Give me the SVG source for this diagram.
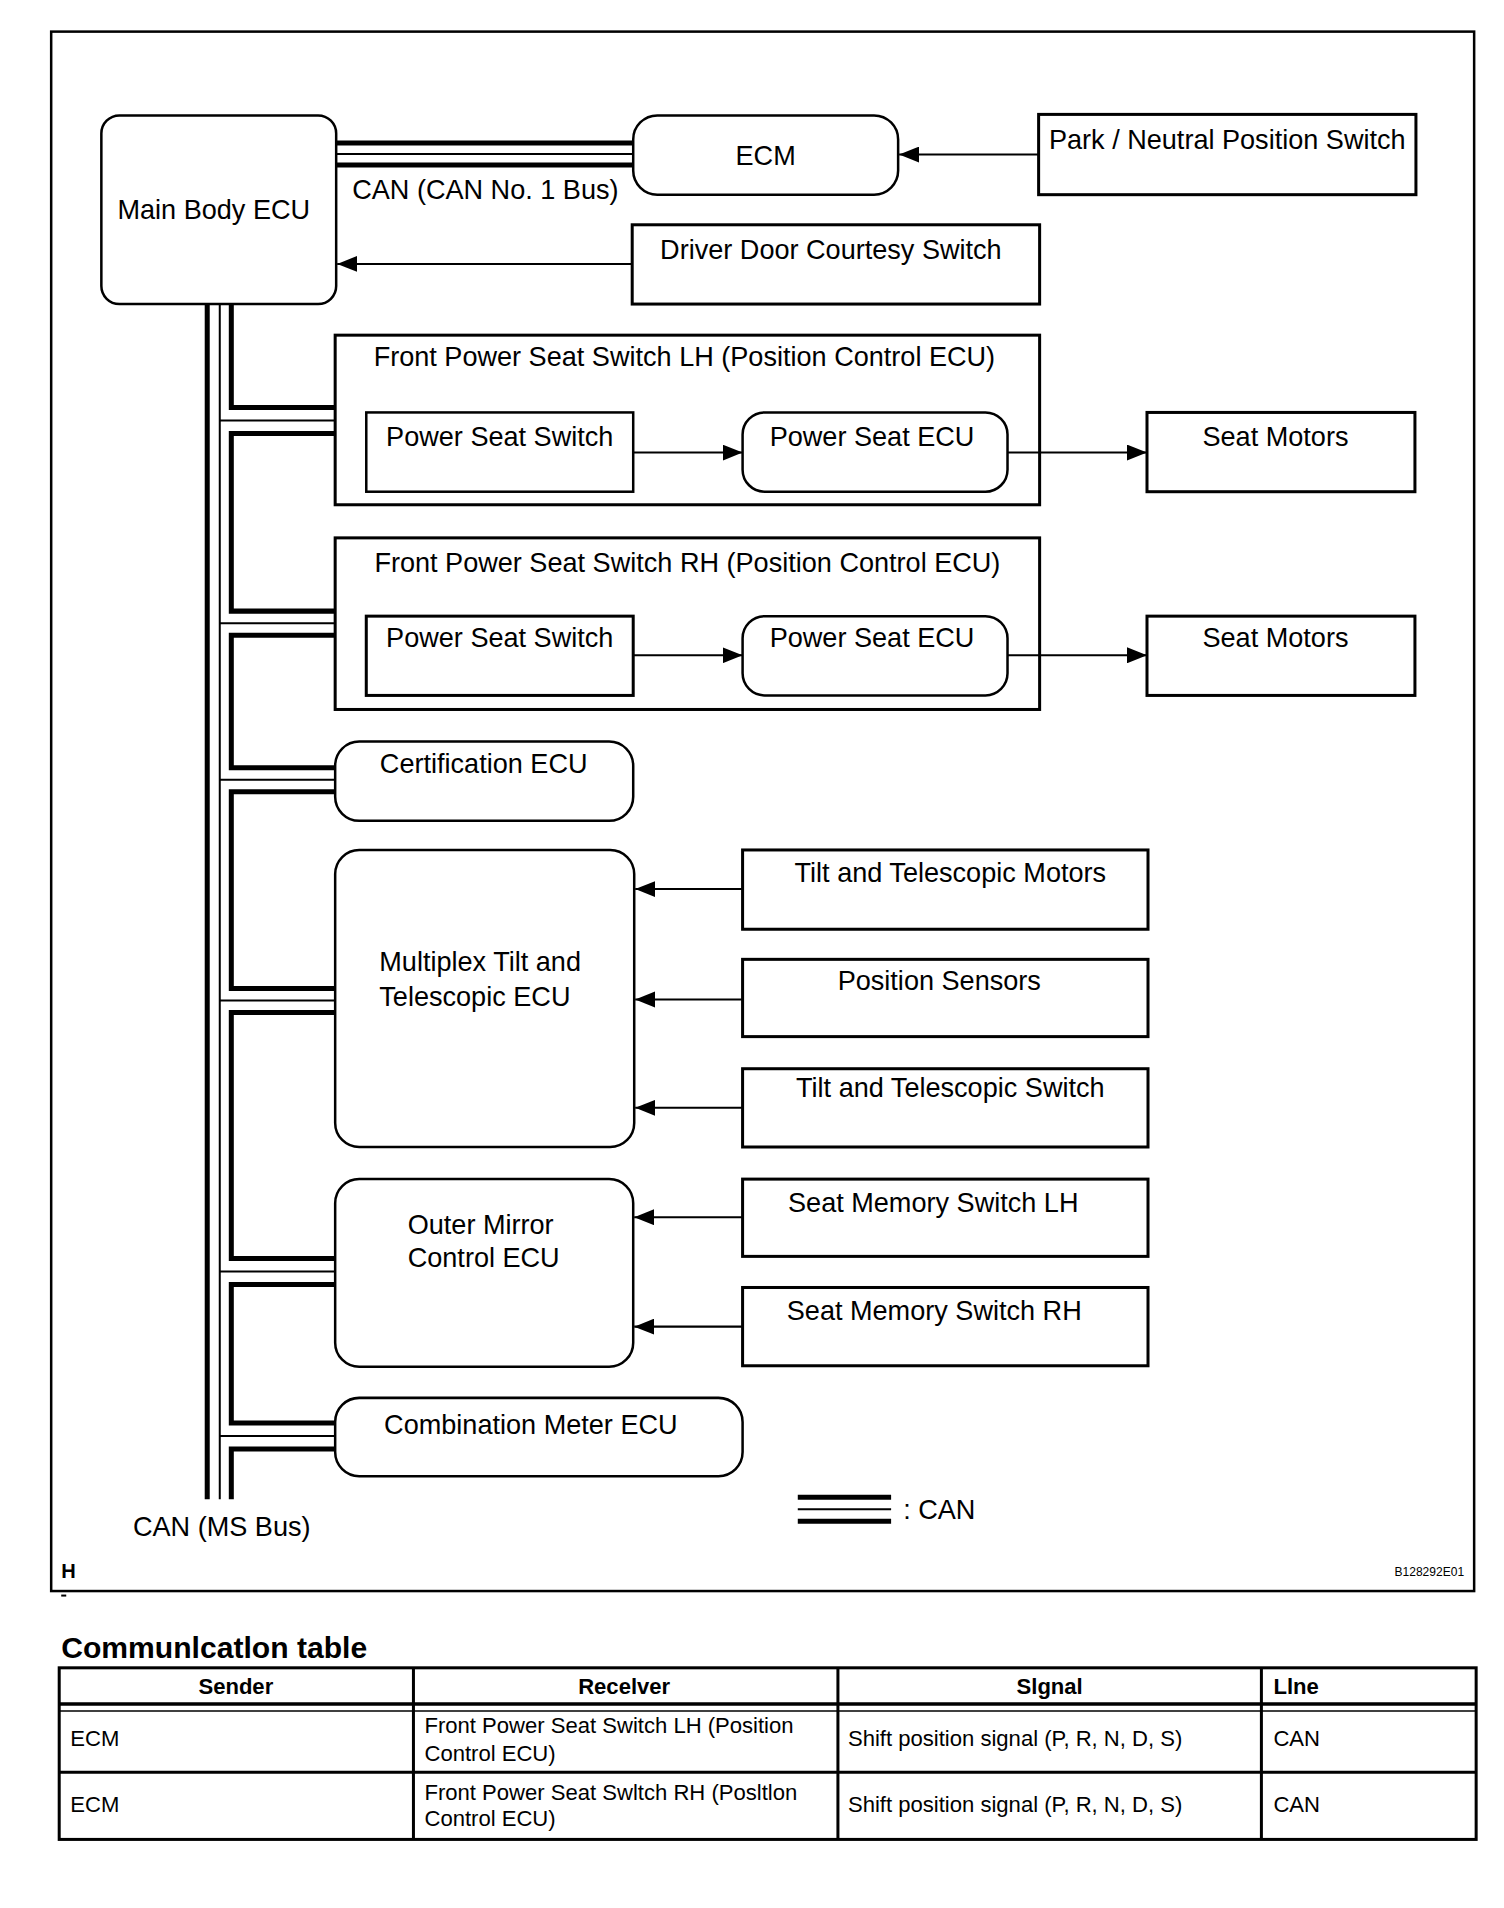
<svg xmlns="http://www.w3.org/2000/svg" width="1504" height="1908" viewBox="0 0 1504 1908">
<style>
.box{fill:#fff;stroke:#000;stroke-width:3}
.rbox{fill:#fff;stroke:#000;stroke-width:2.5}
.grp{fill:#fff;stroke:#000;stroke-width:3}
.t{font-family:"Liberation Sans",Arial,sans-serif;font-size:27px;fill:#000}
.c{text-anchor:middle}
.tb{font-family:"Liberation Sans",Arial,sans-serif;font-size:22px;fill:#000}
.b{font-weight:bold}
.thick{stroke:#000;stroke-width:5;fill:none;stroke-linejoin:miter}
.thin{stroke:#000;stroke-width:2;fill:none}
.conn{stroke:#000;stroke-width:2;fill:none}
.tl{stroke:#000;stroke-width:3;fill:none}
</style>
<defs>
<marker id="arr" markerUnits="userSpaceOnUse" markerWidth="20" markerHeight="16" refX="20" refY="8" orient="auto">
<path d="M0,0 L20,8 L0,16 z" fill="#000"/>
</marker>
</defs>
<rect width="1504" height="1908" fill="#fff"/>
<g transform="scale(1.0035)">
<rect x="51" y="31.5" width="1418" height="1554" fill="none" stroke="#000" stroke-width="2.5"/>
<rect x="61" y="1589" width="5" height="2" fill="#000"/>

<g id="main-body-ecu"><rect class="rbox" x="101" y="115" width="234" height="188" rx="18"/><text class="t c" x="213" y="218">Main Body ECU</text></g>
<g id="ecm"><rect class="rbox" x="631" y="115" width="264" height="79" rx="24"/><text class="t c" x="763" y="164">ECM</text></g>
<g id="pnp-switch"><rect class="box" x="1035" y="114" width="376" height="80"/><text class="t c" x="1223" y="148">Park / Neutral Position Switch</text></g>
<g id="driver-door"><rect class="box" x="630" y="224" width="406" height="79"/><text class="t c" x="828" y="258">Driver Door Courtesy Switch</text></g>

<g id="fpss-lh"><rect class="grp" x="334" y="334" width="702" height="169"/><text class="t c" x="682" y="365">Front Power Seat Switch LH (Position Control ECU)</text></g>
<g id="pss-lh"><rect class="box" x="365" y="411" width="266" height="79" style="stroke-width:2.5"/><text class="t c" x="498" y="444">Power Seat Switch</text></g>
<g id="pse-lh"><rect class="rbox" x="740" y="411" width="264" height="79" rx="22"/><text class="t c" x="869" y="444">Power Seat ECU</text></g>
<g id="motors-lh"><rect class="box" x="1143" y="411" width="267" height="79"/><text class="t c" x="1271" y="444">Seat Motors</text></g>

<g id="fpss-rh"><rect class="grp" x="334" y="536" width="702" height="171"/><text class="t c" x="685" y="570">Front Power Seat Switch RH (Position Control ECU)</text></g>
<g id="pss-rh"><rect class="box" x="365" y="614" width="266" height="79"/><text class="t c" x="498" y="645">Power Seat Switch</text></g>
<g id="pse-rh"><rect class="rbox" x="740" y="614" width="264" height="79" rx="22"/><text class="t c" x="869" y="645">Power Seat ECU</text></g>
<g id="motors-rh"><rect class="box" x="1143" y="614" width="267" height="79"/><text class="t c" x="1271" y="645">Seat Motors</text></g>

<g id="certification-ecu"><rect class="rbox" x="334" y="739" width="297" height="79" rx="24"/><text class="t c" x="482" y="770">Certification ECU</text></g>

<g id="tilt-tele-ecu"><rect class="rbox" x="334" y="847" width="298" height="296" rx="24"/><text class="t" x="378" y="968">Multiplex Tilt and</text><text class="t" x="378" y="1002">Telescopic ECU</text></g>
<g id="tilt-motors"><rect class="box" x="740" y="847" width="404" height="79"/><text class="t c" x="947" y="879">Tilt and Telescopic Motors</text></g>
<g id="position-sensors"><rect class="box" x="740" y="956" width="404" height="77"/><text class="t c" x="936" y="987">Position Sensors</text></g>
<g id="tilt-switch"><rect class="box" x="740" y="1065" width="404" height="78"/><text class="t c" x="947" y="1093">Tilt and Telescopic Switch</text></g>

<g id="outer-mirror-ecu"><rect class="rbox" x="334" y="1175" width="297" height="187" rx="24"/><text class="t c" x="479" y="1230">Outer Mirror</text><text class="t c" x="482" y="1263">Control ECU</text></g>
<g id="memory-lh"><rect class="box" x="740" y="1175" width="404" height="77"/><text class="t c" x="930" y="1208">Seat Memory Switch LH</text></g>
<g id="memory-rh"><rect class="box" x="740" y="1283" width="404" height="78"/><text class="t c" x="931" y="1315">Seat Memory Switch RH</text></g>

<g id="combination-meter"><rect class="rbox" x="334" y="1393" width="406" height="78" rx="24"/><text class="t c" x="529" y="1429">Combination Meter ECU</text></g>

<g id="connectors">
<line class="thick" x1="335" y1="142.5" x2="631" y2="142.5"/>
<line class="thin" x1="335" y1="153.5" x2="631" y2="153.5"/>
<line class="thick" x1="335" y1="164.5" x2="631" y2="164.5"/>
<line class="thick" x1="206.5" y1="303" x2="206.5" y2="1494"/>
<line class="thin" x1="219" y1="303" x2="219" y2="1494"/>
<path class="thick" d="M230.5,303 V406 H334 M334,432 H230.5 V609 H334 M334,633 H230.5 V765 H334 M334,789 H230.5 V985 H334 M334,1009 H230.5 V1254 H334 M334,1280 H230.5 V1418 H334 M334,1444 H230.5 V1494"/>
<path class="thin" d="M219,419 H334 M219,621 H334 M219,777 H334 M219,997 H334 M219,1267 H334 M219,1431 H334"/>
<line class="conn" x1="1035" y1="154" x2="896" y2="154" marker-end="url(#arr)"/>
<line class="conn" x1="630" y1="263" x2="336" y2="263" marker-end="url(#arr)"/>
<line class="conn" x1="631" y1="451" x2="740" y2="451" marker-end="url(#arr)"/>
<line class="conn" x1="1004" y1="451" x2="1143" y2="451" marker-end="url(#arr)"/>
<line class="conn" x1="631" y1="653" x2="740" y2="653" marker-end="url(#arr)"/>
<line class="conn" x1="1004" y1="653" x2="1143" y2="653" marker-end="url(#arr)"/>
<line class="conn" x1="740" y1="886" x2="633" y2="886" marker-end="url(#arr)"/>
<line class="conn" x1="740" y1="996" x2="633" y2="996" marker-end="url(#arr)"/>
<line class="conn" x1="740" y1="1104" x2="633" y2="1104" marker-end="url(#arr)"/>
<line class="conn" x1="740" y1="1213" x2="632" y2="1213" marker-end="url(#arr)"/>
<line class="conn" x1="740" y1="1322" x2="632" y2="1322" marker-end="url(#arr)"/>
</g>

<g id="labels">
<text class="t" x="351" y="198">CAN (CAN No. 1 Bus)</text>
<text class="t c" x="221" y="1531">CAN (MS Bus)</text>
<line class="thick" x1="795" y1="1492" x2="888" y2="1492"/>
<line class="thin" x1="795" y1="1504" x2="888" y2="1504"/>
<line class="thick" x1="795" y1="1516" x2="888" y2="1516"/>
<text class="t" x="900" y="1514">: CAN</text>
<text class="t b" x="61" y="1572" style="font-size:20px">H</text>
<text class="t" x="1459" y="1571" style="font-size:12px;text-anchor:end">B128292E01</text>
</g>

<g id="comm-table">
<text class="t b" x="61" y="1652" style="font-size:30px">Communlcatlon table</text>
<rect x="59" y="1662" width="1412" height="171" fill="none" stroke="#000" stroke-width="3"/>
<line class="tl" x1="412" y1="1662" x2="412" y2="1833"/>
<line class="tl" x1="835" y1="1662" x2="835" y2="1833"/>
<line class="tl" x1="1257" y1="1662" x2="1257" y2="1833"/>
<line x1="59" y1="1698" x2="1471" y2="1698" stroke="#000" stroke-width="3.5"/>
<line x1="59" y1="1705" x2="1471" y2="1705" stroke="#000" stroke-width="1.5"/>
<line class="tl" x1="59" y1="1766" x2="1471" y2="1766"/>
<text class="tb b c" x="235" y="1688">Sender</text>
<text class="tb b c" x="622" y="1688">Recelver</text>
<text class="tb b c" x="1046" y="1688">Slgnal</text>
<text class="tb b" x="1269" y="1688">Llne</text>
<text class="tb" x="70" y="1740">ECM</text>
<text class="tb" x="423" y="1727">Front Power Seat Switch LH (Position</text>
<text class="tb" x="423" y="1755">Control ECU)</text>
<text class="tb" x="845" y="1740">Shift position signal (P, R, N, D, S)</text>
<text class="tb" x="1269" y="1740">CAN</text>
<text class="tb" x="70" y="1806">ECM</text>
<text class="tb" x="423" y="1794">Front Power Seat Swltch RH (Posltlon</text>
<text class="tb" x="423" y="1820">Control ECU)</text>
<text class="tb" x="845" y="1806">Shift position signal (P, R, N, D, S)</text>
<text class="tb" x="1269" y="1806">CAN</text>
</g>
</g>
</svg>
